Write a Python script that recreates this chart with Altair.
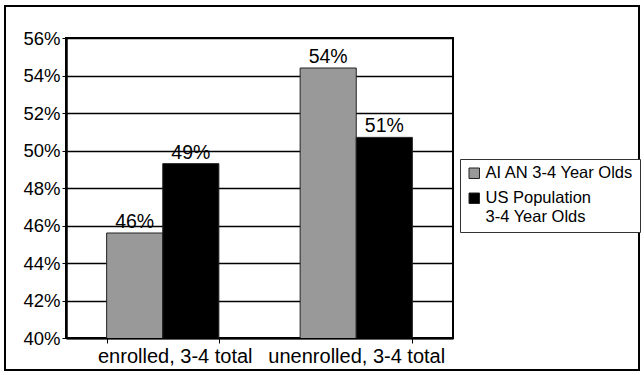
import altair as alt
import pandas as pd

categories = ["enrolled, 3-4 total", "unenrolled, 3-4 total"]
series = ["AI AN 3-4 Year Olds", "US Population 3-4 Year Olds"]
ai_an = [0.456, 0.544]
us_pop = [0.493, 0.507]
y_ticks = [0.40, 0.42, 0.44, 0.46, 0.48, 0.50, 0.52, 0.54, 0.56]

rows = []
for i, c in enumerate(categories):
    rows.append({"category": c, "series": series[0], "value": ai_an[i]})
    rows.append({"category": c, "series": series[1], "value": us_pop[i]})
df = pd.DataFrame(rows)

FONT = "Liberation Sans"

x_enc = alt.X(
    "category:N",
    sort=categories,
    title=None,
    scale=alt.Scale(paddingInner=0.42, paddingOuter=0.21),
    axis=alt.Axis(
        labelAngle=0,
        labelFontSize=20,
        labelFont=FONT,
        labelColor="black",
        labelPadding=3,
        labelOverlap=False,
        domainColor="black",
        domainWidth=2,
        tickColor="black",
        tickSize=5,
        tickWidth=1,
        tickBand="extent",
        labelOffset=alt.ExprRef("datum.index == 0 ? 12 : 0"),
    ),
)
y_enc = alt.Y(
    "value:Q",
    title=None,
    scale=alt.Scale(domain=[0.40, 0.56], zero=False, nice=False),
    axis=alt.Axis(
        values=y_ticks,
        format=".0%",
        labelFontSize=18.5,
        labelFont=FONT,
        labelColor="black",
        labelPadding=2,
        labelOverlap=False,
        labelFlush=False,
        labelBound=False,
        domainColor="black",
        domainWidth=2.5,
        tickColor="black",
        tickSize=4,
        tickWidth=1,
        gridColor="black",
        gridWidth=1.5,
        gridOpacity=1,
    ),
)

base = alt.Chart(df).encode(
    x=x_enc,
    y=y_enc,
    xOffset=alt.XOffset("series:N", sort=series, scale=alt.Scale(paddingInner=0, paddingOuter=0)),
)

bars = base.mark_bar(stroke="#222222", strokeWidth=1, clip=True).encode(
    color=alt.Color(
        "series:N",
        sort=series,
        scale=alt.Scale(domain=series, range=["#999999", "#000000"]),
        legend=alt.Legend(
            title=None,
            orient="none",
            legendX=394,
            legendY=121,
            symbolType="square",
            symbolSize=110,
            symbolStrokeColor="#222222",
            symbolStrokeWidth=1,
            labelFont=FONT,
            labelFontSize=16.5,
            labelColor="black",
            labelLimit=300,
            labelExpr="datum.label == 'US Population 3-4 Year Olds' ? ['US Population', '3-4 Year Olds'] : datum.label",
            strokeColor="#333333",
            padding=6,
            rowPadding=8,
            labelOffset=3,
            fillColor="white",
        ),
    ),
)

labels = base.mark_text(baseline="bottom", dy=-1, fontSize=19.5, font=FONT, color="black").encode(
    text=alt.Text("value:Q", format=".0%"),
)

frame = alt.Chart(pd.DataFrame({"k": [0]})).mark_rect(
    fill="transparent", stroke="black", strokeWidth=2, clip=False
).encode(
    x=alt.value(-61), x2=alt.value(573), y=alt.value(-32), y2=alt.value(332)
)

chart = (
    alt.layer(bars, labels, frame)
    .properties(
        width=387,
        height=300,
        autosize=alt.AutoSizeParams(type="none"),
        padding={"left": 66, "top": 38, "right": 191, "bottom": 37},
        background="white",
    )
    .configure_view(stroke="black", strokeWidth=2)
)

chart.save("out.html", embed_options={"renderer": "svg", "actions": False})
